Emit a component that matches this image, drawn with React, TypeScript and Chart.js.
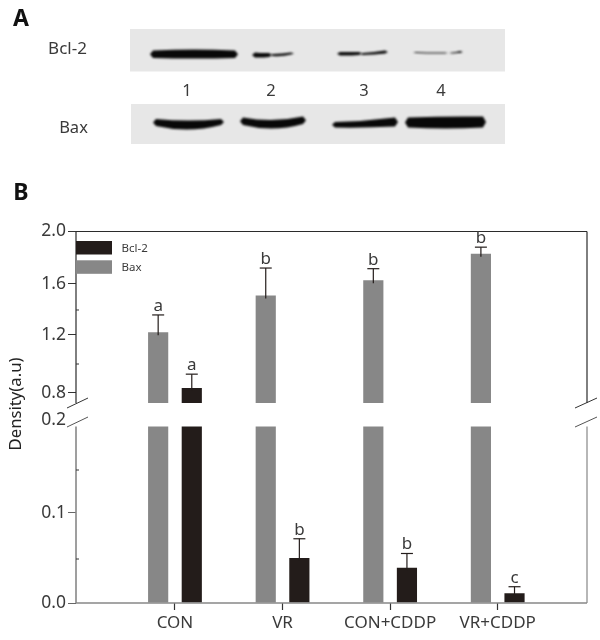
import React, { useEffect, useRef } from "react";
import { Chart, registerables, LinearScale } from "chart.js";

const categories = ["CON", "VR", "CON+CDDP", "VR+CDDP"];
const baxValues = [1.22, 1.51, 1.627, 1.83];
const baxErrorTops = [1.36, 1.72, 1.715, 1.88];
const baxLetters = ["a", "b", "b", "b"];
const bcl2Values = [0.834, 0.051, 0.04, 0.011];
const bcl2ErrorTops = [0.93, 0.072, 0.056, 0.0185];
const bcl2Letters = ["a", "b", "b", "c"];
const majorTicks = [0, 0.1, 0.2, 0.8, 1.2, 1.6, 2.0];
const minorTicks = [0.05, 0.15, 1.0, 1.4];
const laneNumbers = ["1", "2", "3", "4"];

// Broken, hand-ruled axis of the original: value -> share of the plot height from the bottom
const axisValues = [0, 0.05, 0.1, 0.15, 0.2, 0.8, 1.0, 1.2, 1.4, 1.6, 2.0];
const axisShares = [0, 0.1184, 0.2423, 0.358, 0.4926, 0.5653, 0.6433, 0.7222, 0.7887, 0.8595, 1];

const FONT = '"Noto Sans", sans-serif';
const DARK = "#231c1a";
const GREY = "#878787";
const TEXT = "#3a3a3a";

class BrokenScale extends LinearScale {
  static id = "broken";
  static defaults = LinearScale.defaults;
  getPixelForValue(value: number) {
    let i = 0;
    while (i < axisValues.length - 2 && value > axisValues[i + 1]) i++;
    const t = (value - axisValues[i]) / (axisValues[i + 1] - axisValues[i]);
    return this.getPixelForDecimal(axisShares[i] + t * (axisShares[i + 1] - axisShares[i]));
  }
  getValueForPixel(pixel: number) {
    const d = this.getDecimalForPixel(pixel);
    let i = 0;
    while (i < axisShares.length - 2 && d > axisShares[i + 1]) i++;
    const t = (d - axisShares[i]) / (axisShares[i + 1] - axisShares[i]);
    return axisValues[i] + t * (axisValues[i + 1] - axisValues[i]);
  }
}

Chart.register(...registerables, BrokenScale);

function line(ctx: CanvasRenderingContext2D, x0: number, y0: number, x1: number, y1: number, color: string, w: number) {
  ctx.strokeStyle = color;
  ctx.lineWidth = w;
  ctx.beginPath();
  ctx.moveTo(x0, y0);
  ctx.lineTo(x1, y1);
  ctx.stroke();
}

function text(ctx: CanvasRenderingContext2D, s: string, x: number, y: number, font: string, color = TEXT, align: CanvasTextAlign = "center") {
  ctx.font = font;
  ctx.fillStyle = color;
  ctx.textAlign = align;
  ctx.textBaseline = "alphabetic";
  ctx.fillText(s, x, y);
}

// x0, x1, then top edge (left, middle, right) and bottom edge (left, middle, right)
function band(ctx: CanvasRenderingContext2D, b: number[]) {
  const [x0, x1, tl, tm, tr, bl, bm, br] = b;
  const xm = (x0 + x1) / 2;
  ctx.beginPath();
  ctx.moveTo(x0, (tl + bl) / 2);
  ctx.lineTo(x0 + 3, tl);
  ctx.quadraticCurveTo(xm, 2 * tm - (tl + tr) / 2, x1 - 3, tr);
  ctx.lineTo(x1, (tr + br) / 2);
  ctx.lineTo(x1 - 3, br);
  ctx.quadraticCurveTo(xm, 2 * bm - (bl + br) / 2, x0 + 3, bl);
  ctx.closePath();
  ctx.fill();
}

const blotPlugin = {
  id: "blots",
  beforeDraw(chart: any) {
    const ctx: CanvasRenderingContext2D = chart.ctx;
    ctx.save();
    ctx.fillStyle = "#e7e7e7";
    ctx.fillRect(130, 29, 375, 42.5);
    ctx.fillRect(131, 104, 374, 40);
    ctx.filter = "blur(0.8px)";
    ctx.fillStyle = "#080808";
    [
      [150, 238, 50.5, 49.5, 50.5, 58, 58.5, 58],
      [252, 272, 52.5, 53, 53, 57.5, 57.5, 57],
      [270, 294, 54, 53.5, 52.5, 56, 56, 54.5],
      [337, 362, 52, 52, 52, 55.5, 55.5, 55],
      [360, 388, 53, 52, 50.5, 55, 54.5, 53.5],
      [413, 448, 52, 52.5, 52.5, 53, 53.5, 53.5],
      [449, 463, 52.5, 52, 51, 53.5, 53, 53],
      [153, 224, 119, 120.5, 119, 126, 129.5, 125],
      [240, 306, 117.5, 120, 116.5, 125, 128.5, 124],
      [332, 398, 122, 120.5, 117.5, 127.5, 127.5, 126.5],
      [405, 486, 117.5, 116.5, 116.5, 127.5, 128.5, 127.5],
    ].forEach((b) => band(ctx, b));
    ctx.restore();

    ctx.save();
    text(ctx, "A", 21, 26, `bold 23px ${FONT}`, "#111");
    text(ctx, "B", 21, 200, `bold 23px ${FONT}`, "#111");
    text(ctx, "Bcl-2", 67.5, 54, `17px ${FONT}`);
    text(ctx, "Bax", 73.5, 133, `16.5px ${FONT}`);
    const laneX = [187, 271, 364, 441];
    laneNumbers.forEach((n, i) => text(ctx, n, laneX[i], 96, `16.5px ${FONT}`));
    ctx.translate(21, 404);
    ctx.rotate(-Math.PI / 2);
    text(ctx, "Density(a.u)", 0, 0, `16.7px ${FONT}`, "#222");
    ctx.restore();
  },
  afterDatasetsDraw(chart: any) {
    const ctx: CanvasRenderingContext2D = chart.ctx;
    const { left, right, top, bottom } = chart.chartArea;
    const breakTop = 403;
    const breakBottom = 426.5;
    ctx.save();
    // white gap of the broken axis
    ctx.fillStyle = "#fff";
    ctx.fillRect(left - 1, breakTop, right - left + 3, breakBottom - breakTop);

    // frame
    line(ctx, left, top, right, top, "#2b2b2b", 1.2);
    line(ctx, left, top, left, breakTop, "#2b2b2b", 1.2);
    line(ctx, right, top, right, breakTop, "#2b2b2b", 1.2);
    line(ctx, left, breakBottom, left, bottom, GREY, 1.6);
    line(ctx, right, breakBottom, right, bottom, GREY, 1.2);
    line(ctx, left, bottom, right, bottom, GREY, 1.6);

    // break marks
    [left, right].forEach((x) => {
      const xa = x === left ? x - 9 : x - 12;
      const xb = x === left ? x + 12 : x + 10;
      line(ctx, xa, 408, xb, 398, "#333", 1);
      line(ctx, xa, 427, xb, 417, "#555", 1);
    });

    // minor ticks
    const yScale = chart.scales.y;
    minorTicks.forEach((v) => {
      const y = yScale.getPixelForValue(v);
      line(ctx, left, y, left + 3, y, "#333", 1);
    });

    // error bars and significance letters, anchored on the drawn bars
    const sets = [
      { tops: baxErrorTops, values: baxValues, letters: baxLetters },
      { tops: bcl2ErrorTops, values: bcl2Values, letters: bcl2Letters },
    ];
    sets.forEach((s, di) => {
      const meta = chart.getDatasetMeta(di);
      s.tops.forEach((t, i) => {
        const x = meta.data[i].x;
        const yTop = yScale.getPixelForValue(t);
        const yBar = yScale.getPixelForValue(s.values[i]);
        line(ctx, x, yBar + 3, x, yTop, DARK, 1.2);
        line(ctx, x - 6, yTop, x + 6, yTop, DARK, 1.2);
        text(ctx, s.letters[i], x, yTop - 4, `17px ${FONT}`);
      });
    });

    // legend
    [1, 0].forEach((di, row) => {
      const ds = chart.data.datasets[di];
      const y = 241 + row * 19.3;
      ctx.fillStyle = ds.backgroundColor;
      ctx.fillRect(left, y, 36, 13.5);
      text(ctx, ds.label, left + 45.5, y + 11, `11.5px ${FONT}`, TEXT, "left");
    });
    ctx.restore();
  },
};

export default function App() {
  const ref = useRef<HTMLCanvasElement>(null);
  useEffect(() => {
    const chart = new Chart(ref.current as HTMLCanvasElement, {
      type: "bar",
      data: {
        datasets: [
          { label: "Bax", data: baxValues.map((y, x) => ({ x, y })), backgroundColor: GREY },
          { label: "Bcl-2", data: bcl2Values.map((y, x) => ({ x, y })), backgroundColor: DARK },
        ],
      },
      plugins: [blotPlugin],
      options: {
        responsive: false,
        animation: false,
        devicePixelRatio: 1,
        categoryPercentage: 0.625,
        barPercentage: 0.6,
        layout: { padding: { top: 231.5, right: 13, left: 0, bottom: 0 } },
        plugins: { legend: { display: false }, tooltip: { enabled: false } },
        scales: {
          x: {
            type: "linear",
            offset: false,
            min: -0.92,
            max: 3.83,
            afterBuildTicks: (s: any) => {
              s.ticks = categories.map((_, value) => ({ value }));
            },
            afterFit: (s: any) => {
              s.height = 37;
            },
            grid: { display: true, drawOnChartArea: false, offset: false, tickLength: 7, tickColor: "#333", tickWidth: 1.2 },
            border: { display: false },
            ticks: {
              autoSkip: false,
              maxRotation: 0,
              padding: 3,
              color: TEXT,
              font: { family: FONT, size: 17 },
              callback: (v: any) => categories[v as number],
            },
          },
          y: {
            type: "broken",
            min: 0,
            max: 2,
            afterBuildTicks: (s: any) => {
              s.ticks = majorTicks.map((value) => ({ value }));
            },
            afterFit: (s: any) => {
              s.width = 76;
            },
            grid: {
              display: true,
              drawOnChartArea: false,
              tickLength: 8,
              tickWidth: 1,
              tickColor: (c: any) => (c.tick && c.tick.value === 0.2 ? "rgba(0,0,0,0)" : c.tick && c.tick.value > 0.5 ? "#333" : "#666"),
            },
            border: { display: false },
            ticks: {
              autoSkip: false,
              padding: 2,
              color: TEXT,
              font: { family: FONT, size: 17.5 },
              callback: (v: any) => Number(v).toFixed(1),
            },
          },
        },
      } as any,
    });
    return () => chart.destroy();
  }, []);
  return (
    <canvas
      ref={ref}
      width={600}
      height={640}
      style={{ position: "absolute", left: 0, top: 0, width: 600, height: 640 }}
    />
  );
}
